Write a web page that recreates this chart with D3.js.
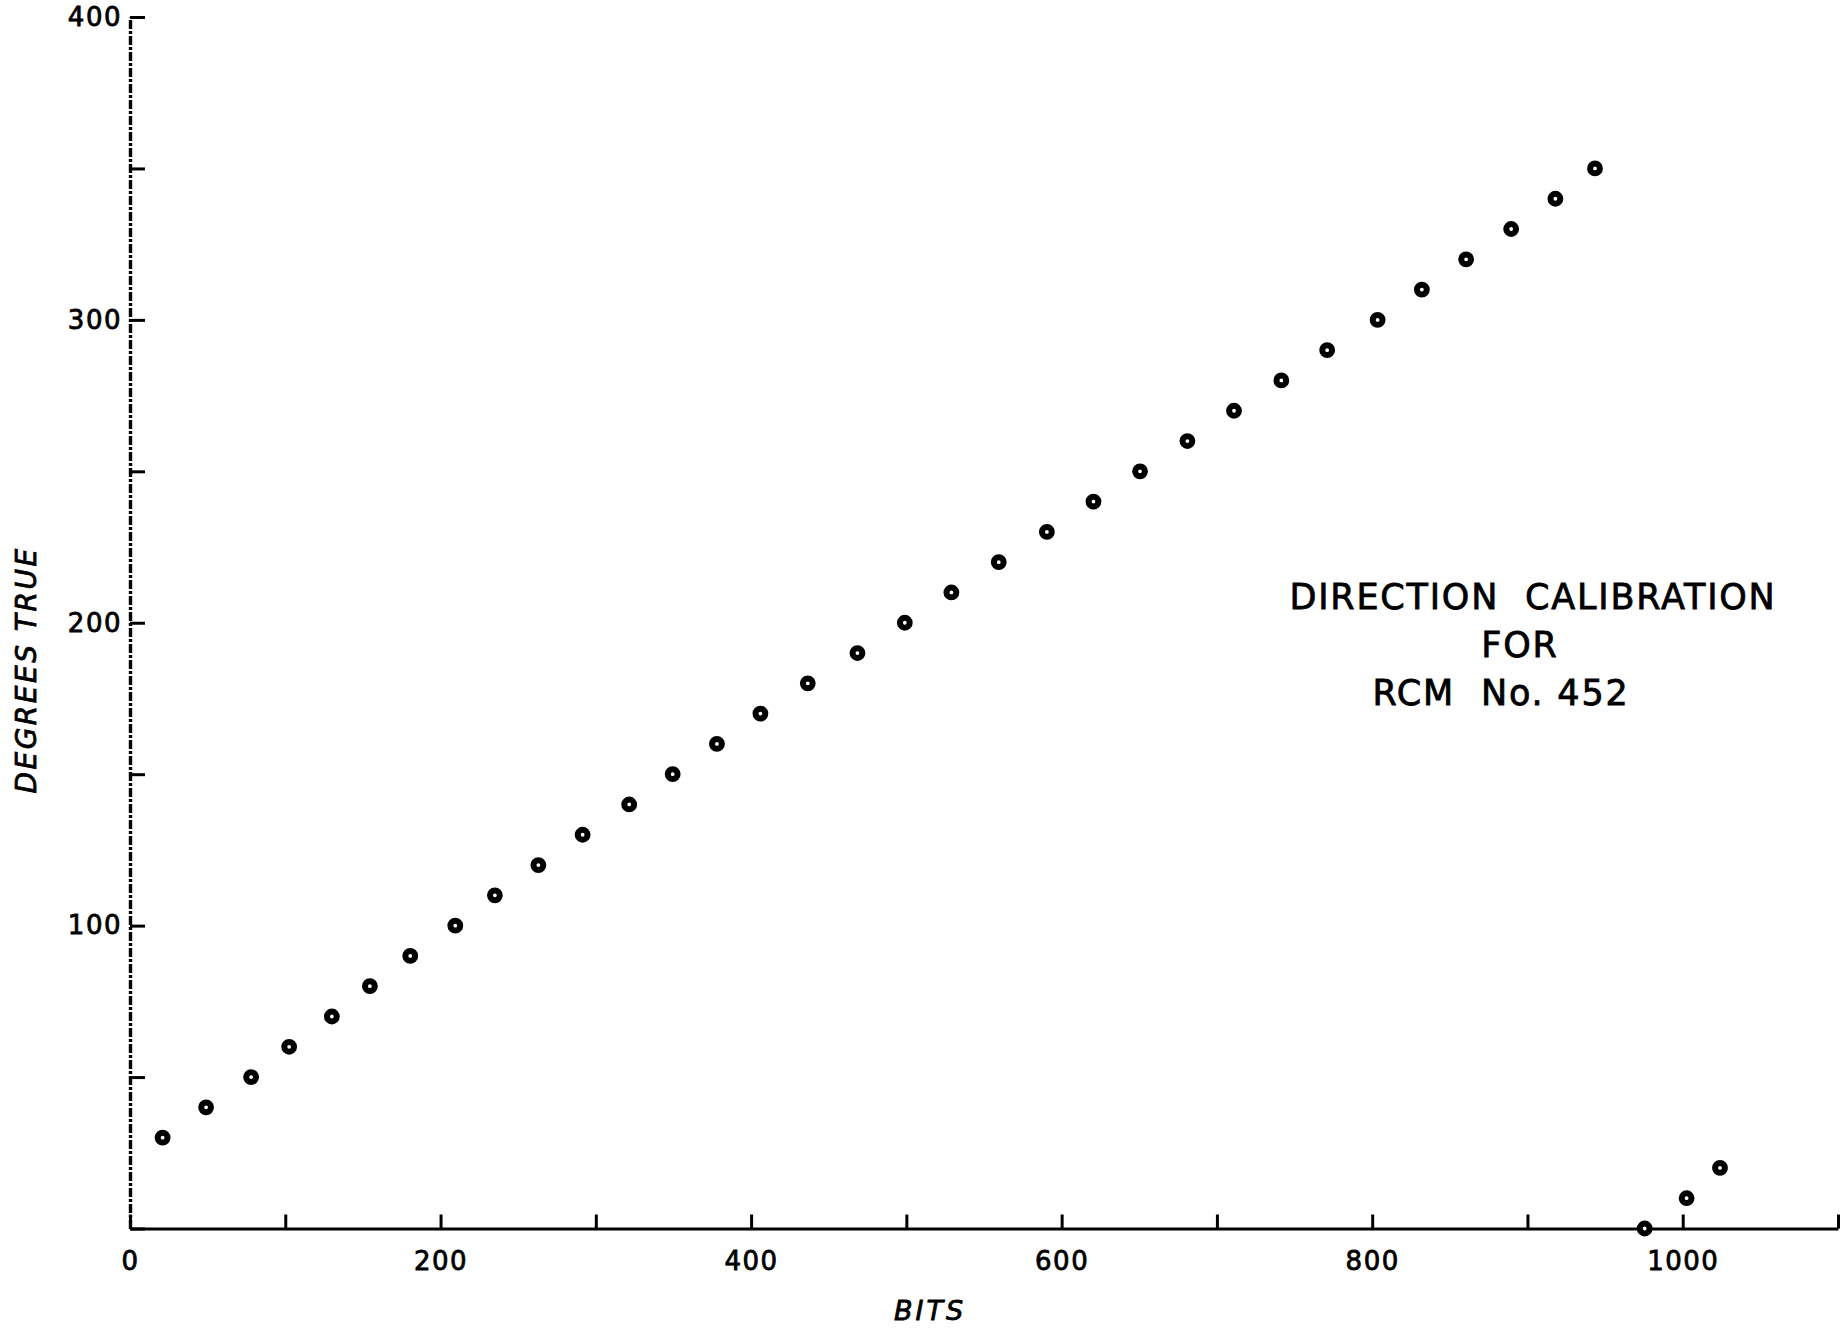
<!DOCTYPE html>
<html>
<head>
<meta charset="utf-8">
<script src="https://cdn.jsdelivr.net/npm/d3@7"></script>
<style>
  html, body { margin: 0; padding: 0; background: #fff; }
  svg { display: block; }
  text { font-family: "DejaVu Sans", sans-serif; fill: #000; stroke: #000; stroke-width: 0.8px; }
</style>
</head>
<body>
<svg id="chart" width="1848" height="1329"></svg>
<script>
// Direction calibration points: encoder reading (bits) vs. direction (degrees true)
const bits = [21, 49, 78, 102.5, 130, 154.5, 180.5, 209.5, 235, 263, 291.5,
              321.5, 349.5, 378, 406, 436.5, 468.5, 499, 529, 559.5, 590.5, 620.5,
              650.5, 681, 711, 741.5, 771, 803.5, 832, 860.5, 889.5, 918, 943.5,
              975.5, 1002.5, 1024];
const degrees = [30, 40, 50, 60, 70, 80, 90, 100, 110, 120, 130,
                 140, 150, 160, 170, 180, 190, 200, 210, 220, 230, 240,
                 250, 260, 270, 280, 290, 300, 310, 320, 330, 340, 350,
                 0, 10, 20];

const xTicks = [0, 100, 200, 300, 400, 500, 600, 700, 800, 900, 1000, 1100];
const xTickLabels = [0, 200, 400, 600, 800, 1000];
const yTicks = [0, 50, 100, 150, 200, 250, 300, 350, 400];
const yTickLabels = [100, 200, 300, 400];

const titleLines = ["DIRECTION  CALIBRATION", "FOR", "RCM  No. 452"];

const svg = d3.select("#chart");

const x = d3.scaleLinear().domain([0, 1100]).range([130, 1838]);
const y = d3.scaleLinear().domain([0, 400]).range([1228.5, 17]);

// x axis: ticks point up into the plot
const xAxis = svg.append("g")
  .attr("transform", `translate(0,${y(0)})`)
  .call(d3.axisBottom(x)
    .tickValues(xTicks)
    .tickSizeInner(-14)
    .tickSizeOuter(0)
    .tickPadding(23)
    .tickFormat(d => xTickLabels.includes(d) ? d : ""));
xAxis.select(".domain").attr("stroke", "#000").attr("stroke-width", 3.2);
xAxis.selectAll(".tick line").attr("stroke", "#000").attr("stroke-width", 3);
xAxis.selectAll(".tick text")
  .attr("font-size", 26)
  .attr("letter-spacing", 1.5)
  .attr("font-family", "DejaVu Sans, sans-serif");

// y axis: broken inked line, ticks point right
const yAxis = svg.append("g")
  .attr("transform", `translate(${x(0)},0)`)
  .call(d3.axisLeft(y)
    .tickValues(yTicks)
    .tickSizeInner(-15)
    .tickSizeOuter(0)
    .tickPadding(8)
    .tickFormat(d => yTickLabels.includes(d) ? d : ""));
yAxis.select(".domain")
  .attr("stroke", "#000")
  .attr("stroke-width", 3.4)
  .attr("stroke-dasharray", "9,2,3,2");
yAxis.selectAll(".tick line").attr("stroke", "#000").attr("stroke-width", 3);
yAxis.selectAll(".tick text")
  .attr("font-size", 26)
  .attr("letter-spacing", 1.5)
  .attr("font-family", "DejaVu Sans, sans-serif");

// data points: heavy inked rings with a small open centre
svg.append("g")
  .selectAll("circle")
  .data(bits.map((b, i) => ({ b, d: degrees[i] })))
  .join("circle")
  .attr("cx", p => x(p.b))
  .attr("cy", p => y(p.d))
  .attr("r", 4.9)
  .attr("fill", "#fff")
  .attr("stroke", "#000")
  .attr("stroke-width", 6);

// axis titles
svg.append("text")
  .attr("x", 930)
  .attr("y", 1320)
  .attr("text-anchor", "middle")
  .attr("font-size", 27)
  .attr("font-style", "italic")
  .attr("letter-spacing", 3)
  .text("BITS");

svg.append("text")
  .attr("transform", "translate(36,670) rotate(-90)")
  .attr("text-anchor", "middle")
  .attr("font-size", 28)
  .attr("font-style", "italic")
  .attr("letter-spacing", 2.5)
  .text("DEGREES TRUE");

// chart title block
const titleX = [1533, 1520, 1501];
const titleY = [609, 657, 705];
svg.append("g")
  .selectAll("text")
  .data(titleLines)
  .join("text")
  .attr("x", (d, i) => titleX[i])
  .attr("y", (d, i) => titleY[i])
  .attr("text-anchor", "middle")
  .attr("font-size", 35)
  .attr("letter-spacing", 1.8)
  .attr("xml:space", "preserve")
  .style("white-space", "pre")
  .text(d => d);
</script>
</body>
</html>
